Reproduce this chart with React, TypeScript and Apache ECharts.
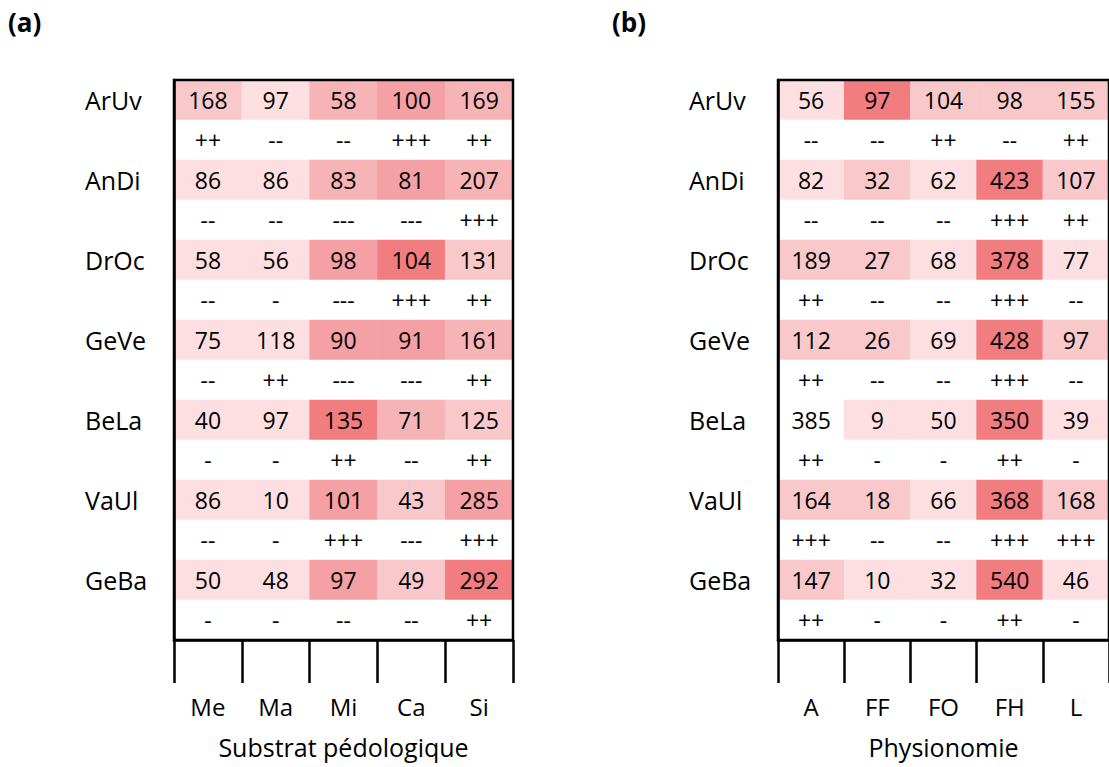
import React, { useEffect, useRef } from "react";
import * as echarts from "echarts";

const species = ["ArUv", "AnDi", "DrOc", "GeVe", "BeLa", "VaUl", "GeBa"];

const substratCats = ["Me", "Ma", "Mi", "Ca", "Si"];
const substratValues = [
  [168, 97, 58, 100, 169],
  [86, 86, 83, 81, 207],
  [58, 56, 98, 104, 131],
  [75, 118, 90, 91, 161],
  [40, 97, 135, 71, 125],
  [86, 10, 101, 43, 285],
  [50, 48, 97, 49, 292],
];
const substratLevels = [
  [2, 1, 3, 4, 3],
  [1, 1, 3, 4, 3],
  [1, 1, 4, 5, 2],
  [1, 1, 4, 4, 3],
  [1, 1, 5, 3, 2],
  [1, 1, 4, 2, 4],
  [1, 1, 4, 2, 5],
];
const substratSigns = [
  ["++", "--", "--", "+++", "++"],
  ["--", "--", "---", "---", "+++"],
  ["--", "-", "---", "+++", "++"],
  ["--", "++", "---", "---", "++"],
  ["-", "-", "++", "--", "++"],
  ["--", "-", "+++", "---", "+++"],
  ["-", "-", "--", "--", "++"],
];

const physioCats = ["A", "FF", "FO", "FH", "L"];
const physioValues = [
  [56, 97, 104, 98, 155],
  [82, 32, 62, 423, 107],
  [189, 27, 68, 378, 77],
  [112, 26, 69, 428, 97],
  [385, 9, 50, 350, 39],
  [164, 18, 66, 368, 168],
  [147, 10, 32, 540, 46],
];
const physioLevels = [
  [1, 5, 2, 2, 2],
  [1, 2, 1, 5, 2],
  [2, 2, 1, 5, 1],
  [2, 2, 1, 5, 2],
  [0, 1, 1, 5, 1],
  [2, 2, 1, 5, 2],
  [2, 1, 1, 5, 1],
];
const physioSigns = [
  ["--", "--", "++", "--", "++"],
  ["--", "--", "--", "+++", "++"],
  ["++", "--", "--", "+++", "--"],
  ["++", "--", "--", "+++", "--"],
  ["++", "-", "-", "++", "-"],
  ["+++", "--", "--", "+++", "+++"],
  ["++", "-", "-", "++", "-"],
];

const levelColors = ["#ffffff", "#fddfe2", "#f8c8cb", "#f6b4b7", "#f4a0a4", "#f27d80"];

const FONT = "'Open Sans', sans-serif";

function buildData(values: number[][], levels: number[][], signs: string[][]) {
  const out: any[] = [];
  values.forEach((row, i) => {
    row.forEach((v, j) => {
      out.push({ name: String(v), value: [j, 2 * i, v, levels[i][j]] });
      out.push({ name: signs[i][j], value: [j, 2 * i + 1, 0, 0] });
    });
  });
  return out;
}

const yCats: string[] = [];
species.forEach((s) => {
  yCats.push(s);
  yCats.push(s + "_s");
});

export default function App() {
  const ref = useRef<HTMLDivElement>(null);
  useEffect(() => {
    if (!ref.current) return;
    const chart = echarts.init(ref.current, undefined, { renderer: "svg" });
    const grids = [
      { left: 174, top: 80, width: 339, height: 560 },
      { left: 778, top: 80, width: 339, height: 560 },
    ];
    const names = ["Substrat pédologique", "Physionomie"];
    const cats = [substratCats, physioCats];
    const lineStyle = { color: "#000", width: 2.5 };
    const titleStyle = { fontSize: 26, fontWeight: "bold", color: "#000", fontFamily: FONT };
    chart.setOption({
      animation: false,
      textStyle: { fontFamily: FONT },
      title: [
        { text: "(a)", left: 8, top: 9, padding: 0, textStyle: titleStyle },
        { text: "(b)", left: 612, top: 9, padding: 0, textStyle: titleStyle },
      ],
      grid: grids.map((g) => ({
        ...g,
        show: true,
        z: 10,
        borderColor: "#000",
        borderWidth: 2.5,
        backgroundColor: "transparent",
      })),
      xAxis: [0, 1].map((k) => ({
        type: "category",
        gridIndex: k,
        data: cats[k],
        position: "bottom",
        z: 10,
        axisLine: { show: true, lineStyle },
        axisTick: { show: true, length: 43, lineStyle, alignWithLabel: false },
        axisLabel: { margin: 54, fontSize: 24, color: "#000", fontFamily: FONT },
        splitLine: { show: false },
        name: names[k],
        nameLocation: "middle",
        nameGap: 94,
        nameTextStyle: { fontSize: 25, color: "#000", fontFamily: FONT },
      })),
      yAxis: [0, 1].map((k) => ({
        type: "category",
        gridIndex: k,
        data: yCats,
        inverse: true,
        z: 10,
        axisLine: { show: true, lineStyle },
        axisTick: { show: false },
        splitLine: { show: false },
        axisLabel: {
          interval: 0,
          align: "left",
          margin: 89,
          fontSize: 25,
          color: "#000",
          fontFamily: FONT,
          formatter: (v: string) => (v.endsWith("_s") ? "" : v),
        },
      })),
      visualMap: {
        type: "piecewise",
        show: false,
        dimension: 3,
        seriesIndex: [0, 1],
        pieces: levelColors.map((c, i) => ({ value: i, color: c })),
      },
      series: [
        {
          type: "heatmap",
          xAxisIndex: 0,
          yAxisIndex: 0,
          data: buildData(substratValues, substratLevels, substratSigns),
          label: { show: true, formatter: (p: any) => p.name, fontSize: 23, color: "#000", fontFamily: FONT },
          emphasis: { disabled: true },
        },
        {
          type: "heatmap",
          xAxisIndex: 1,
          yAxisIndex: 1,
          data: buildData(physioValues, physioLevels, physioSigns),
          label: { show: true, formatter: (p: any) => p.name, fontSize: 23, color: "#000", fontFamily: FONT },
          emphasis: { disabled: true },
        },
      ],
    });
    return () => chart.dispose();
  }, []);
  return (
    <div
      ref={ref}
      style={{ position: "fixed", left: 0, top: 0, width: 1109, height: 767, background: "#fff" }}
    />
  );
}
